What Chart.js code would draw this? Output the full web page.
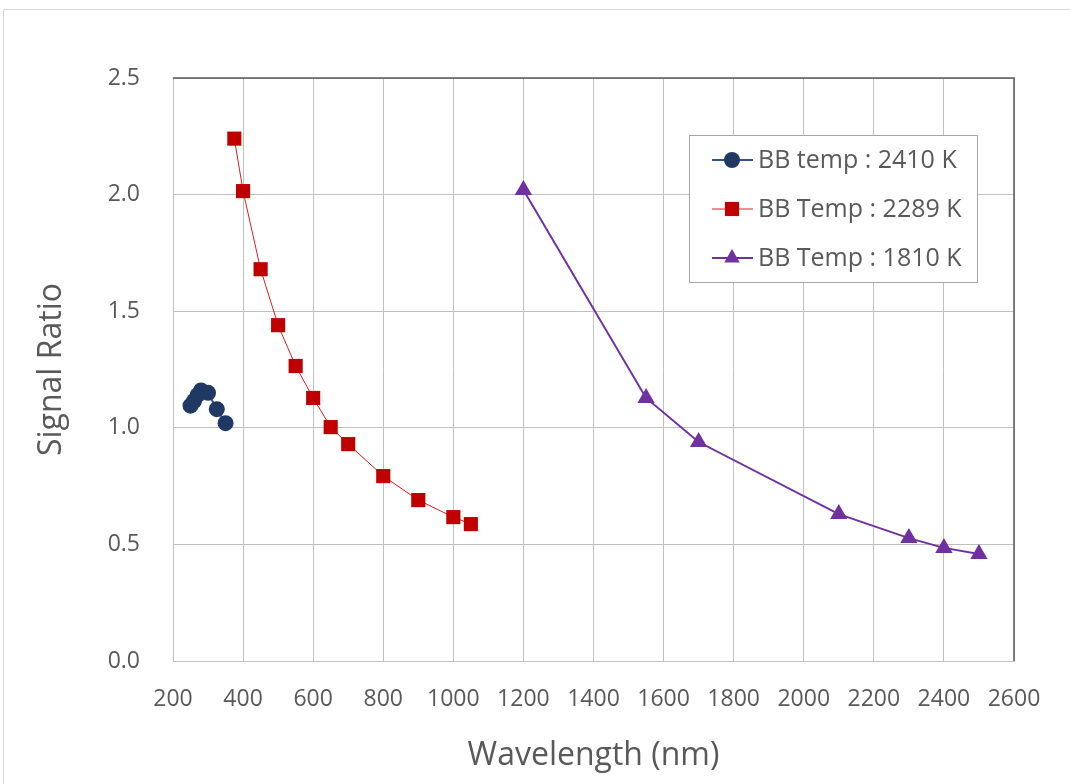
<!DOCTYPE html>
<html>
<head>
<meta charset="utf-8">
<script src="https://cdn.jsdelivr.net/npm/chart.js@4/dist/chart.umd.min.js"></script>
<style>
  html, body { margin: 0; padding: 0; background: #ffffff; }
  #wrap { width: 1070px; height: 784px; position: relative; }
</style>
</head>
<body>
<div id="wrap"><canvas id="c" width="1070" height="784"></canvas></div>
<script>
// ---- data ----
const seriesNames = ["BB temp : 2410 K", "BB Temp : 2289 K", "BB Temp : 1810 K"];
const blueX = [250, 260, 270, 280, 300, 325, 350];
const blueY = [1.095, 1.115, 1.14, 1.16, 1.15, 1.08, 1.02];
const redX = [375, 400, 450, 500, 550, 600, 650, 700, 800, 900, 1000, 1050];
const redY = [2.24, 2.015, 1.68, 1.44, 1.265, 1.128, 1.003, 0.93, 0.793, 0.69, 0.617, 0.587];
const purpleX = [1200, 1550, 1700, 2100, 2300, 2400, 2500];
const purpleY = [2.02, 1.128, 0.939, 0.63, 0.527, 0.485, 0.459];
const xTicks = [200, 400, 600, 800, 1000, 1200, 1400, 1600, 1800, 2000, 2200, 2400, 2600];
const yTicks = [0.0, 0.5, 1.0, 1.5, 2.0, 2.5];
const xTitle = "Wavelength (nm)";
const yTitle = "Signal Ratio";

const pts = (xs, ys) => xs.map((x, i) => ({ x: x, y: ys[i] }));
const FONT = '"Open Sans", "Noto Sans", sans-serif';
const TXT = '#595959';

const styles = [
  { line: '#2E5596', fill: '#203864', style: 'circle', r: 8, lr: 8, w: 2 },
  { line: '#D42020', fill: '#C00000', style: 'rect', r: 10, lr: 10, w: 1 },
  { line: '#7030A0', fill: '#7030A0', style: 'triangle', r: 10, lr: 9, w: 2 }
];

const frame = {
  id: 'frame',
  beforeDraw(chart) {
    const ctx = chart.ctx;
    ctx.save();
    ctx.strokeStyle = '#d9d9d9';
    ctx.lineWidth = 1;
    ctx.strokeRect(3.5, 9.5, 1080, 800);
    ctx.restore();
  },
  afterDatasetsDraw(chart) {
    const ctx = chart.ctx;
    const a = chart.chartArea;
    ctx.save();
    ctx.strokeStyle = '#595959';
    ctx.lineWidth = 1.5;
    ctx.beginPath();
    ctx.moveTo(a.left, a.top);
    ctx.lineTo(a.right, a.top);
    ctx.lineTo(a.right, a.bottom);
    ctx.stroke();
    // legend
    const lx = 689.5, ly = 135.5, lw = 288, lh = 147;
    ctx.fillStyle = '#ffffff';
    ctx.fillRect(lx, ly, lw, lh);
    ctx.strokeStyle = '#a6a6a6';
    ctx.lineWidth = 1;
    ctx.strokeRect(lx, ly, lw, lh);
    const rows = [160, 209, 258];
    chart.data.datasets.forEach((ds, i) => {
      const s = styles[i];
      const y = rows[i];
      ctx.strokeStyle = s.line;
      ctx.lineWidth = s.w;
      ctx.beginPath();
      ctx.moveTo(712, y);
      ctx.lineTo(753, y);
      ctx.stroke();
      ctx.fillStyle = s.fill;
      ctx.strokeStyle = s.fill;
      Chart.helpers.drawPoint(ctx, { pointStyle: s.style, radius: s.lr, borderWidth: 0 }, 732, y);
      ctx.fillStyle = TXT;
      ctx.font = '25px ' + FONT;
      ctx.textBaseline = 'middle';
      ctx.textAlign = 'left';
      ctx.fillText(seriesNames[i], 758, y + 1);
    });
    ctx.restore();
  }
};

const mk = (i, xs, ys) => ({
  label: seriesNames[i],
  data: pts(xs, ys),
  showLine: true,
  borderColor: styles[i].line,
  borderWidth: styles[i].w,
  backgroundColor: styles[i].fill,
  pointBackgroundColor: styles[i].fill,
  pointBorderColor: styles[i].fill,
  pointBorderWidth: 0,
  pointStyle: styles[i].style,
  pointRadius: styles[i].r,
  tension: 0
});

new Chart(document.getElementById('c'), {
  type: 'scatter',
  data: {
    datasets: [
      mk(0, blueX, blueY),
      mk(1, redX, redY),
      mk(2, purpleX, purpleY)
    ]
  },
  options: {
    responsive: false,
    animation: false,
    devicePixelRatio: 1,
    layout: { padding: { left: 0, top: 78, right: 56, bottom: 0 } },
    plugins: { legend: { display: false }, tooltip: { enabled: false } },
    scales: {
      x: {
        type: 'linear',
        min: 200, max: 2600,
        afterFit(s) { s.height = 123; },
        afterBuildTicks(s) { s.ticks = xTicks.map(v => ({ value: v })); },
        grid: { color: '#c0c0c0', lineWidth: 1, drawTicks: false },
        border: { color: '#bfbfbf', width: 1 },
        ticks: { color: TXT, font: { family: FONT, size: 23 }, padding: 25, maxRotation: 0, autoSkip: false, callback: v => String(v) },
        title: { display: true, text: xTitle, color: TXT, font: { family: FONT, size: 32 }, padding: { top: 0, bottom: 9 } }
      },
      y: {
        type: 'linear',
        min: 0, max: 2.5,
        afterFit(s) { s.width = 173; },
        afterBuildTicks(s) { s.ticks = yTicks.map(v => ({ value: v })); },
        grid: { color: '#c0c0c0', lineWidth: 1, drawTicks: false },
        border: { color: '#bfbfbf', width: 1 },
        ticks: { color: TXT, font: { family: FONT, size: 23 }, padding: 33, callback: v => Number(v).toFixed(1) },
        title: { display: true, text: yTitle, color: TXT, font: { family: FONT, size: 32 }, padding: { top: 33, bottom: 0 } }
      }
    }
  },
  plugins: [frame]
});
</script>
</body>
</html>
